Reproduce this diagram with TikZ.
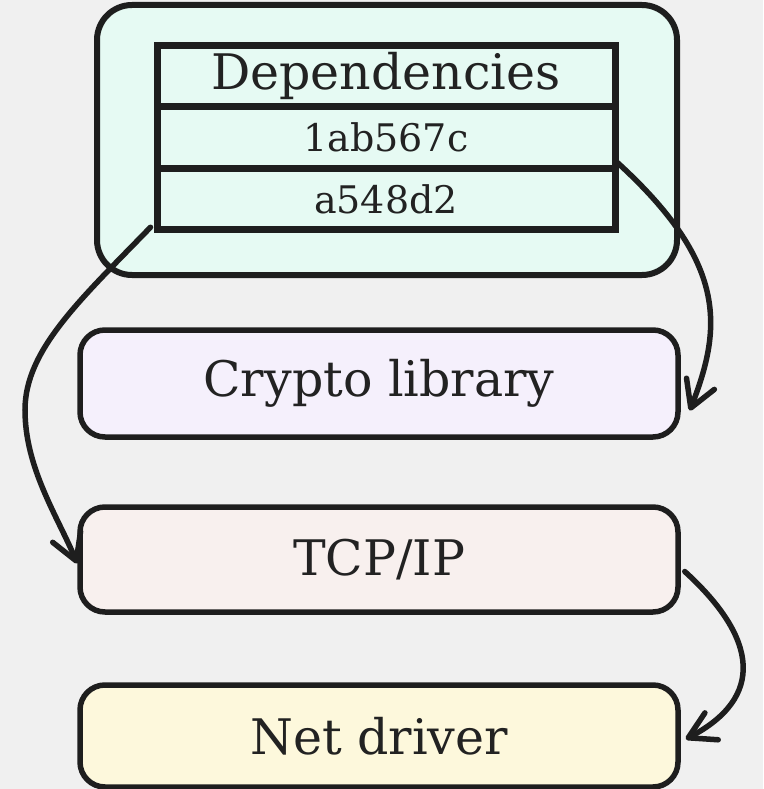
\documentclass[tikz,border=0pt]{standalone}
\usepackage{fontspec}
\setmainfont{DejaVu Serif}
\usetikzlibrary{arrows.meta,calc,bending}
\definecolor{bgc}{HTML}{F0F0F0}
\definecolor{ink}{HTML}{1E1E1E}
\definecolor{txt}{HTML}{222222}
\definecolor{mint}{HTML}{E6FAF3}
\definecolor{lav}{HTML}{F5F0FC}
\definecolor{rose}{HTML}{F8F0EE}
\definecolor{cream}{HTML}{FDF8DC}
\tikzset{
  layerbox/.style={draw=ink, line width=5.5pt, rounded corners=25pt, minimum width=598pt, text=txt, font=\fontsize{49}{58}\selectfont, inner sep=0pt},
  container/.style={draw=ink, line width=6pt, rounded corners=35pt, fill=mint, minimum width=580pt, minimum height=270pt, inner sep=0pt},
  cell/.style={draw=ink, line width=7pt, minimum width=458pt, minimum height=61.5pt, inner sep=0pt, text=txt},
  hdrfont/.style={font=\fontsize{49}{58}\selectfont},
  rowfont/.style={font=\fontsize{38}{44}\selectfont},
  link/.style={draw=ink, line width=5.5pt, line cap=round, -{Straight Barb[length=26pt,width=30pt,round,flex]}}
}
\begin{document}
\begin{tikzpicture}[x=1pt,y=-1pt]
\useasboundingbox (0,0) rectangle (763,789);
\fill[bgc] (0,0) rectangle (763,789);
\node[container] (deps) at (387,140) {};
\node[cell,hdrfont] (hdr) at (386,76) {Dependencies};
\node[cell,rowfont] (r1) at (386,137.5) {1ab567c};
\node[cell,rowfont] (r2) at (386,199) {a548d2};
\node[layerbox, fill=lav, minimum height=107pt] (crypto) at (379,383.5) {Crypto library};
\node[layerbox, fill=rose, minimum height=105pt] (tcp) at (379,559.5) {TCP/IP};
\node[layerbox, fill=cream, minimum height=102pt] (net) at (379,736) {Net driver};
\draw[link] ($(r2.south west)+(-3,-6)$) .. controls (80,300) and (25,350) .. (25,410)
  .. controls (25,470) and (60,520) .. ($(tcp.west)+(0,4)$);
\draw[link] ($(r1.south east)+(-2,-10)$) .. controls (730,265) and (722,330) .. ($(crypto.east)+(9,27)$);
\draw[link] ($(tcp.east)+(4,12)$) .. controls (760,640) and (765,700) .. ($(net.east)+(5,3)$);
\end{tikzpicture}
\end{document}
